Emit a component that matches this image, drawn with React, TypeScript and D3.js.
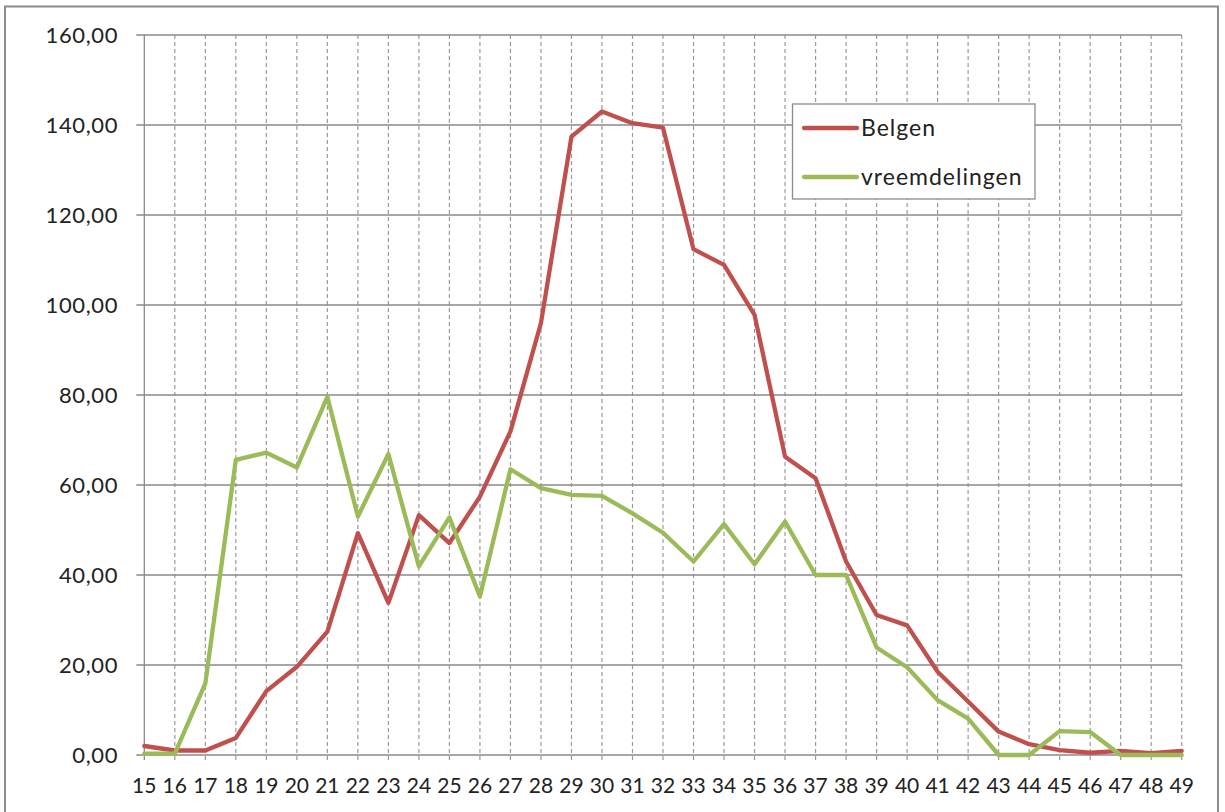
import React from "react";
import * as d3 from "d3";

const categories = [15,16,17,18,19,20,21,22,23,24,25,26,27,28,29,30,31,32,33,34,35,36,37,38,39,40,41,42,43,44,45,46,47,48,49];
const belgen = [2.0,1.0,1.0,3.8,14.2,19.6,27.4,49.3,33.8,53.3,47.1,57.4,71.9,96.0,137.4,143.0,140.4,139.4,112.4,108.9,97.8,66.3,61.5,43.0,31.1,28.8,18.5,11.9,5.2,2.4,1.1,0.5,0.9,0.4,0.9];
const vreemdelingen = [0.3,0.3,15.9,65.6,67.2,63.9,79.6,53.0,66.9,41.9,52.8,35.2,63.5,59.3,57.8,57.6,53.7,49.4,43.0,51.3,42.4,51.9,40.0,40.0,23.9,19.5,12.2,8.1,0,0,5.3,5.1,0,0,0];
const yTicks = [0,20,40,60,80,100,120,140,160];
const seriesNames = ["Belgen", "vreemdelingen"];
const seriesColors = ["#C0504D", "#9BBB59"];

export default function App() {
  const W = 1225, H = 812;
  const left = 144.3, right = 1181.7, top = 35, bottom = 755;
  const x = d3.scaleLinear().domain([15, 49]).range([left, right]);
  const y = d3.scaleLinear().domain([0, 160]).range([bottom, top]);
  const line = d3.line<number>().x((_, i) => x(categories[i])).y(d => y(d));
  const font = "Lato, 'Open Sans', sans-serif";
  const series = [belgen, vreemdelingen];
  return (
    <svg width={W} height={H} style={{ position: "absolute", left: 0, top: 0 }}>
      <rect x={0} y={0} width={W} height={H} fill="#fff" />
      <rect x={5} y={6.5} width={1213} height={H} fill="none" stroke="#8c8c8c" strokeWidth={2} />
      {categories.slice(1).map(c => (
        <line key={"v" + c} x1={x(c)} x2={x(c)} y1={top} y2={bottom + 5} stroke="#9a9a9a" strokeWidth={1.2} strokeDasharray="4,3" />
      ))}
      {yTicks.map(t => (
        <line key={"h" + t} x1={left - 8} x2={right} y1={y(t)} y2={y(t)} stroke="#8a8a8a" strokeWidth={1.3} />
      ))}
      <line x1={left} x2={left} y1={top} y2={bottom + 5} stroke="#8a8a8a" strokeWidth={1.3} />
      {yTicks.map(t => (
        <text key={"yl" + t} x={118} y={y(t)} dy="0.35em" textAnchor="end" fontFamily={font} fontSize={22} letterSpacing={0.6} fill="#222">
          {d3.format(".2f")(t).replace(".", ",")}
        </text>
      ))}
      {categories.map(c => (
        <text key={"xl" + c} x={x(c)} y={786} dy="0.35em" textAnchor="middle" fontFamily={font} fontSize={21} fill="#222">
          {c}
        </text>
      ))}
      {series.map((s, i) => (
        <path key={"s" + i} d={line(s) || ""} fill="none" stroke={seriesColors[i]} strokeWidth={4.3} strokeLinejoin="round" strokeLinecap="round" />
      ))}
      <rect x={792.5} y={104} width={242.5} height={95} fill="#fff" stroke="#8c8c8c" strokeWidth={1.3} />
      {seriesNames.map((n, i) => (
        <g key={"lg" + i}>
          <line x1={804} x2={857} y1={128 + i * 49} y2={128 + i * 49} stroke={seriesColors[i]} strokeWidth={4.3} strokeLinecap="round" />
          <text x={861} y={128 + i * 49} dy="0.35em" fontFamily={font} fontSize={23} letterSpacing={1} fill="#222">{n}</text>
        </g>
      ))}
    </svg>
  );
}
